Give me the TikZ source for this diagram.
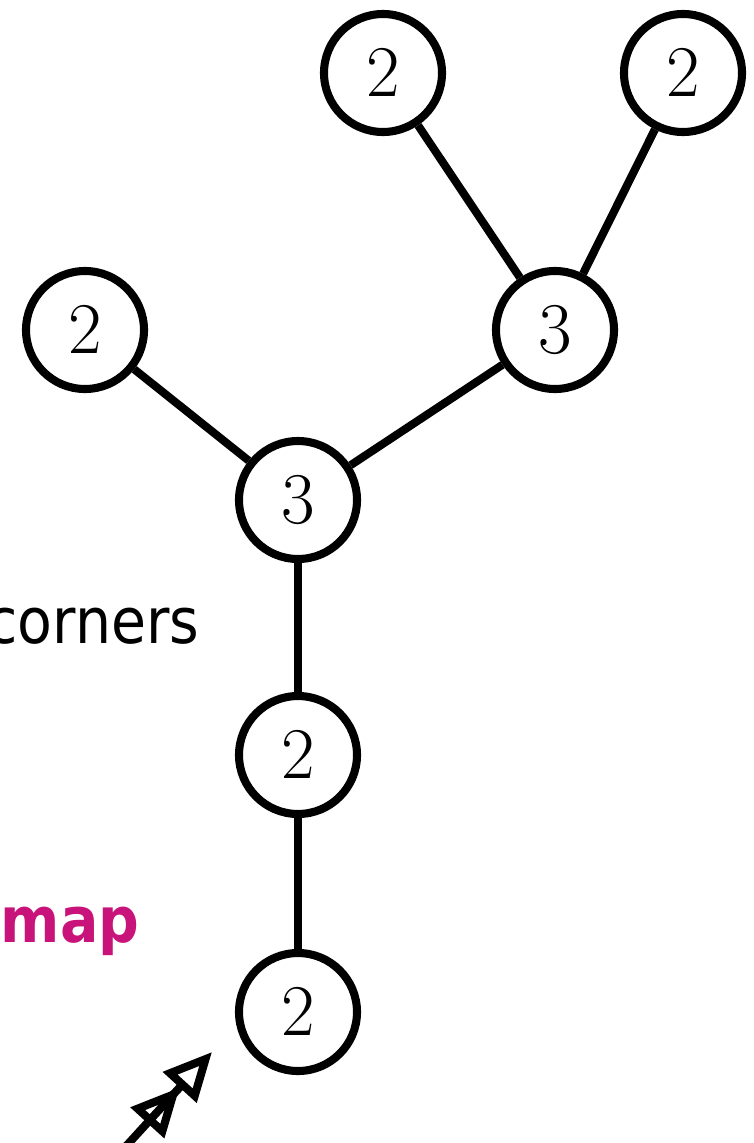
\documentclass[tikz,border=0pt]{standalone}
\usepackage{fontspec}
\usepackage{amsmath}
\usetikzlibrary{arrows.meta}
\newfontfamily\labelfont[FakeStretch=0.9]{DejaVu Sans}
\definecolor{inkmagenta}{HTML}{C8137A}
\tikzset{
  vertex/.style={circle, draw=black, line width=2.3pt, fill=white,
    minimum size=1.18cm, inner sep=0pt, font=\fontsize{21}{25}\selectfont},
  edge/.style={line width=2.3pt},
  note/.style={anchor=base east, inner sep=0pt, font=\labelfont\fontsize{18}{22}\selectfont}
}
\newcommand{\vertexnode}[3]{%
  \node[vertex] (#1) at (#2) {$#3$};}

\begin{document}
\begin{tikzpicture}
  \useasboundingbox (0,0) rectangle (7.54,-11.43);
  \vertexnode{top1}{3.83,-0.73}{2}
  \vertexnode{top2}{6.83,-0.73}{2}
  \vertexnode{right}{5.55,-3.30}{3}
  \vertexnode{left}{0.85,-3.30}{2}
  \vertexnode{hub}{2.98,-5.00}{3}
  \vertexnode{mid}{2.98,-7.55}{2}
  \vertexnode{root}{2.98,-10.12}{2}
  \draw[edge] (hub) -- (left);
  \draw[edge] (hub) -- (right);
  \draw[edge] (right) -- (top1);
  \draw[edge] (right) -- (top2);
  \draw[edge] (hub) -- (mid);
  \draw[edge] (mid) -- (root);
  % labels cut at the left edge
  \node[note] (corners) at (2.00,-6.43) {corners};
  \node[note, text=inkmagenta, font=\labelfont\bfseries\fontsize{18}{22}\selectfont] (map) at (1.40,-9.42) {map};
  % pointer to the root
  \coordinate (tail) at (1.18,-11.55);
  \coordinate (tip) at (2.12,-10.52);
  \draw[line width=2.3pt, -{Triangle[open, length=4.8mm, width=4.4mm] Triangle[open, length=4.8mm, width=4.4mm]}] (tail) -- (tip);
\end{tikzpicture}
\end{document}
